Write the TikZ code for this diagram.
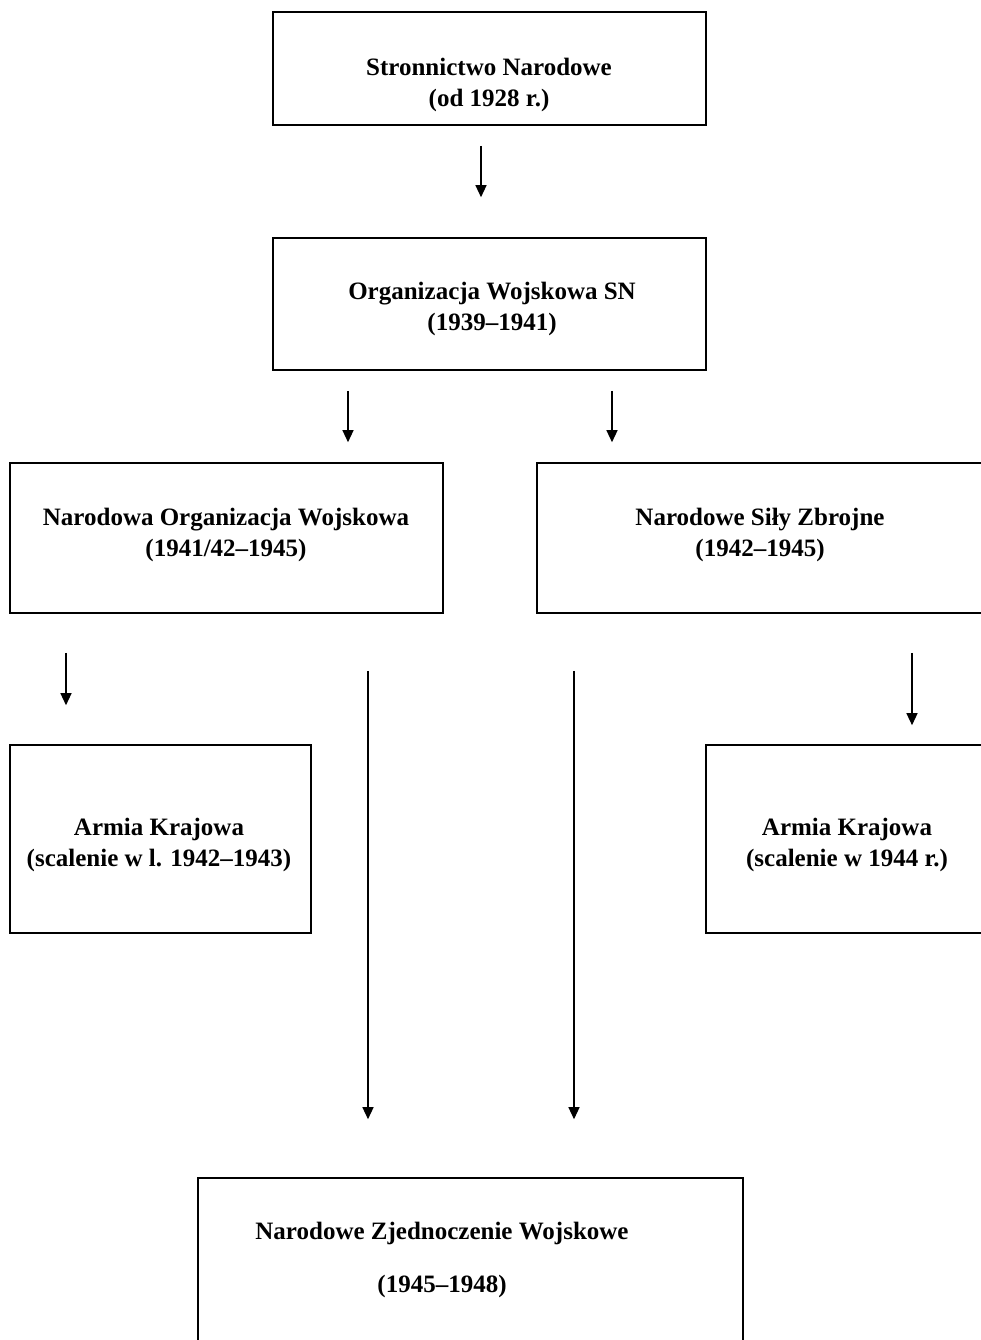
\documentclass[tikz,border=0pt]{standalone}
\usepackage{fontspec}
\setmainfont{Liberation Serif}
\usetikzlibrary{arrows.meta}

\begin{document}
\begin{tikzpicture}[x=1pt, y=-1pt,
      box/.style={draw, line width=1.6pt, rectangle, inner sep=0pt},
      txt/.style={align=center, anchor=base, inner sep=0pt, font=\bfseries\fontsize{25pt}{31pt}\selectfont},
      arr/.style={line width=1.3pt, -{Triangle[width=11pt,length=12pt]}}]

      \useasboundingbox (0,0) rectangle (981,1340);
      \clip (0,0) rectangle (981,1340);

      \node[box, minimum width=433pt, minimum height=113pt] (sn) at (489.5,68.5) {};
      \node[box, minimum width=433pt, minimum height=132pt] (ow) at (489.5,304) {};
      \node[box, minimum width=433pt, minimum height=150pt] (now) at (226.5,538) {};
      \node[box, minimum width=463pt, minimum height=150pt] (nsz) at (768.5,538) {};
      \node[box, minimum width=301pt, minimum height=188pt] (akl) at (160.5,839) {};
      \node[box, minimum width=304pt, minimum height=188pt] (akp) at (858,839) {};
      \node[box, minimum width=545pt, minimum height=182pt] (nzw) at (470.5,1269) {};

      \node[txt] (snt) at (489,107) {Stronnictwo Narodowe\\(od 1928 r.)};
      \node[txt] (owt) at (492,330) {Organizacja Wojskowa SN\\(1939--1941)};
      \node[txt] (nowt) at (226,556) {Narodowa Organizacja Wojskowa\\(1941/42--1945)};
      \node[txt] (nszt) at (760,556) {Narodowe Siły Zbrojne\\(1942--1945)};
      \node[txt] (aklt) at (159,866) {Armia Krajowa\\(scalenie w l. 1942--1943)};
      \node[txt] (akpt) at (847,866) {Armia Krajowa\\(scalenie w 1944 r.)};
      \node[txt, font=\bfseries\fontsize{25pt}{53pt}\selectfont] (nzwt) at (442,1292) {Narodowe Zjednoczenie Wojskowe\\(1945--1948)};

      \draw[arr] ([xshift=-8.5pt,yshift=-20pt]sn.south) -- ([xshift=-8.5pt,yshift=40pt]ow.north);
      \draw[arr] ([xshift=-141.5pt,yshift=-20pt]ow.south) -- ([xshift=-141.5pt,yshift=20pt]ow.south |- now.north);
      \draw[arr] ([xshift=122.5pt,yshift=-20pt]ow.south) -- ([xshift=122.5pt,yshift=20pt]ow.south |- nsz.north);
      \draw[arr] ([xshift=-94.5pt,yshift=-39pt]now.south -| akl.north) -- ([xshift=-94.5pt,yshift=39pt]akl.north);
      \draw[arr] ([xshift=54pt,yshift=-39pt]nsz.south -| akp.north) -- ([xshift=54pt,yshift=19pt]akp.north);
      \draw[arr] ([xshift=141.5pt,yshift=-57pt]now.south) -- ([xshift=-102.5pt,yshift=58pt]nzw.north);
      \draw[arr] ([xshift=-194.5pt,yshift=-57pt]nsz.south) -- ([xshift=103.5pt,yshift=58pt]nzw.north);
    \end{tikzpicture}
\end{document}
